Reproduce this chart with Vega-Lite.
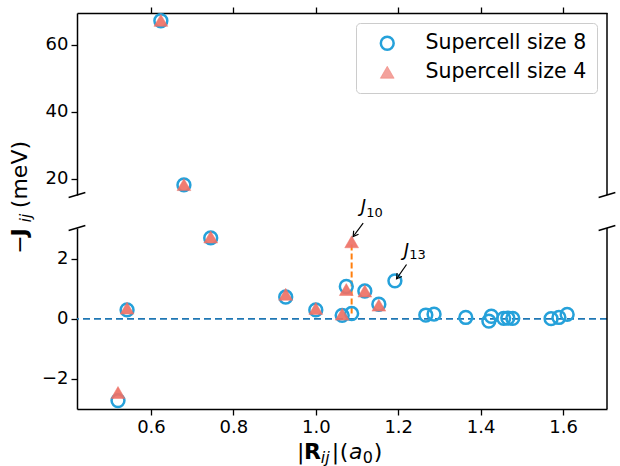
{
  "$schema": "https://vega.github.io/schema/vega-lite/v6.json",
  "padding": {"left": 9, "top": 6, "right": 8, "bottom": 0},
  "bounds": "flush",
  "spacing": 33,
  "config": {
    "view": {"stroke": null},
    "font": "DejaVu Sans",
    "axis": {"grid": false, "labelFontSize": 18, "labelFont": "DejaVu Sans", "labelColor": "black", "tickColor": "black", "domainColor": "black", "tickSize": 6, "tickWidth": 1.3, "domainWidth": 1.5, "labelPadding": 3},
    "legend": {"orient": "top-right", "offset": 10, "padding": 10, "symbolOffset": 11, "labelOffset": 28, "labelFontSize": 20.5, "labelLimit": 400, "labelFont": "DejaVu Sans", "labelColor": "black", "rowPadding": 7, "strokeColor": "#cccccc", "fillColor": "white", "cornerRadius": 4}
  },
  "datasets": {
    "pts": [
      {"R": 0.520, "J": -2.72, "s": "Supercell size 8"},
      {"R": 0.542, "J": 0.30, "s": "Supercell size 8"},
      {"R": 0.624, "J": 67.2, "s": "Supercell size 8"},
      {"R": 0.680, "J": 18.2, "s": "Supercell size 8"},
      {"R": 0.745, "J": 2.70, "s": "Supercell size 8"},
      {"R": 0.927, "J": 0.73, "s": "Supercell size 8"},
      {"R": 1.000, "J": 0.30, "s": "Supercell size 8"},
      {"R": 1.064, "J": 0.12, "s": "Supercell size 8"},
      {"R": 1.074, "J": 1.08, "s": "Supercell size 8"},
      {"R": 1.087, "J": 0.18, "s": "Supercell size 8"},
      {"R": 1.119, "J": 0.93, "s": "Supercell size 8"},
      {"R": 1.153, "J": 0.49, "s": "Supercell size 8"},
      {"R": 1.192, "J": 1.27, "s": "Supercell size 8"},
      {"R": 1.267, "J": 0.13, "s": "Supercell size 8"},
      {"R": 1.287, "J": 0.16, "s": "Supercell size 8"},
      {"R": 1.364, "J": 0.05, "s": "Supercell size 8"},
      {"R": 1.420, "J": -0.07, "s": "Supercell size 8"},
      {"R": 1.426, "J": 0.09, "s": "Supercell size 8"},
      {"R": 1.456, "J": 0.02, "s": "Supercell size 8"},
      {"R": 1.466, "J": 0.03, "s": "Supercell size 8"},
      {"R": 1.478, "J": 0.02, "s": "Supercell size 8"},
      {"R": 1.571, "J": 0.01, "s": "Supercell size 8"},
      {"R": 1.590, "J": 0.05, "s": "Supercell size 8"},
      {"R": 1.610, "J": 0.15, "s": "Supercell size 8"},
      {"R": 0.520, "J": -2.45, "s": "Supercell size 4"},
      {"R": 0.542, "J": 0.36, "s": "Supercell size 4"},
      {"R": 0.624, "J": 67.3, "s": "Supercell size 4"},
      {"R": 0.680, "J": 18.3, "s": "Supercell size 4"},
      {"R": 0.745, "J": 2.73, "s": "Supercell size 4"},
      {"R": 0.927, "J": 0.82, "s": "Supercell size 4"},
      {"R": 1.000, "J": 0.35, "s": "Supercell size 4"},
      {"R": 1.064, "J": 0.16, "s": "Supercell size 4"},
      {"R": 1.074, "J": 0.98, "s": "Supercell size 4"},
      {"R": 1.087, "J": 2.57, "s": "Supercell size 4"},
      {"R": 1.119, "J": 0.93, "s": "Supercell size 4"},
      {"R": 1.153, "J": 0.46, "s": "Supercell size 4"}
    ],
    "ann": [
      {"x": 1.1094, "y": 3.563, "xs": 1.1227, "ys": 3.413, "sub": "10"},
      {"x": 1.2136, "y": 2.113, "xs": 1.2269, "ys": 1.997, "sub": "13"}
    ],
    "arrows": [
      {"x1": 1.1150, "y1": 3.19, "x2": 1.0907, "y2": 2.747},
      {"x1": 1.2202, "y1": 1.813, "x2": 1.1960, "y2": 1.337}
    ],
    "j10": [
      {"R": 1.087, "lo": 0.18, "hi": 2.57}
    ]
  },
  "resolve": {"scale": {"x": "independent", "y": "independent", "shape": "independent", "stroke": "independent", "fill": "independent", "size": "independent", "opacity": "independent", "strokeWidth": "independent"}},
  "vconcat": [
    {
      "width": 530,
      "height": 182,
      "layer": [
        {
          "data": {"name": "pts"},
          "transform": [{"filter": "datum.J > 10"}],
          "mark": {"type": "point", "filled": false},
          "encoding": {
            "x": {"field": "R", "type": "quantitative", "scale": {"domain": [0.4205, 1.7067], "nice": false, "zero": false}, "axis": {"orient": "top", "labels": false, "title": null, "values": [0.6, 0.8, 1.0, 1.2, 1.4, 1.6]}},
            "y": {"field": "J", "type": "quantitative", "scale": {"domain": [15.2, 69.5], "nice": false, "zero": false}, "axis": {"title": null, "values": [20, 40, 60]}},
            "shape": {"field": "s", "type": "nominal", "legend": {"title": null}, "scale": {"domain": ["Supercell size 8", "Supercell size 4"], "range": ["circle", "triangle-up"]}},
            "stroke": {"field": "s", "type": "nominal", "legend": {"title": null}, "scale": {"domain": ["Supercell size 8", "Supercell size 4"], "range": ["#25a1da", "#ee7166"]}},
            "fill": {"field": "s", "type": "nominal", "legend": {"title": null}, "scale": {"domain": ["Supercell size 8", "Supercell size 4"], "range": ["transparent", "#ee7166"]}},
            "size": {"field": "s", "type": "nominal", "legend": {"title": null}, "scale": {"domain": ["Supercell size 8", "Supercell size 4"], "range": [165, 190]}},
            "opacity": {"field": "s", "type": "nominal", "legend": {"title": null}, "scale": {"domain": ["Supercell size 8", "Supercell size 4"], "range": [1, 0.92]}},
            "strokeWidth": {"field": "s", "type": "nominal", "legend": {"title": null}, "scale": {"domain": ["Supercell size 8", "Supercell size 4"], "range": [2.5, 0.5]}}
          }
        },
        {
          "data": {"values": [{}]},
          "mark": {"type": "rule", "color": "black", "strokeWidth": 1.5},
          "encoding": {"x": {"datum": 1.7067}}
        },
        {
          "data": {"values": [{}]},
          "mark": {"type": "point", "shape": "M-1,0.3L1,-0.3", "size": 280, "filled": false, "stroke": "black", "strokeWidth": 1.5, "opacity": 1},
          "encoding": {"x": {"datum": 0.4205}, "y": {"datum": 15.2}}
        },
        {
          "data": {"values": [{}]},
          "mark": {"type": "point", "shape": "M-1,0.3L1,-0.3", "size": 280, "filled": false, "stroke": "black", "strokeWidth": 1.5, "opacity": 1},
          "encoding": {"x": {"datum": 1.7067}, "y": {"datum": 15.2}}
        }
      ]
    },
    {
      "width": 530,
      "height": 181,
      "layer": [
        {
          "data": {"values": [{}]},
          "mark": {"type": "rule", "color": "#1f77b4", "strokeDash": [7, 4], "strokeWidth": 1.8},
          "encoding": {"y": {"datum": 0}}
        },
        {
          "data": {"name": "j10"},
          "mark": {"type": "rule", "color": "#ff7f0e", "strokeDash": [6, 3], "strokeWidth": 2},
          "encoding": {
            "x": {"field": "R", "type": "quantitative"},
            "y": {"field": "lo", "type": "quantitative"},
            "y2": {"field": "hi"}
          }
        },
        {
          "data": {"name": "pts"},
          "transform": [{"filter": "datum.J < 10"}],
          "mark": {"type": "point", "filled": false},
          "encoding": {
            "x": {"field": "R", "type": "quantitative", "scale": {"domain": [0.4205, 1.7067], "nice": false, "zero": false}, "axis": {"title": null, "values": [0.6, 0.8, 1.0, 1.2, 1.4, 1.6], "format": ".1f"}},
            "y": {"field": "J", "type": "quantitative", "scale": {"domain": [-3, 3.03], "nice": false, "zero": false}, "axis": {"title": null, "values": [-2, 0, 2]}},
            "shape": {"field": "s", "type": "nominal", "legend": null, "scale": {"domain": ["Supercell size 8", "Supercell size 4"], "range": ["circle", "triangle-up"]}},
            "stroke": {"field": "s", "type": "nominal", "legend": null, "scale": {"domain": ["Supercell size 8", "Supercell size 4"], "range": ["#25a1da", "#ee7166"]}},
            "fill": {"field": "s", "type": "nominal", "legend": null, "scale": {"domain": ["Supercell size 8", "Supercell size 4"], "range": ["transparent", "#ee7166"]}},
            "size": {"field": "s", "type": "nominal", "legend": null, "scale": {"domain": ["Supercell size 8", "Supercell size 4"], "range": [165, 190]}},
            "opacity": {"field": "s", "type": "nominal", "legend": null, "scale": {"domain": ["Supercell size 8", "Supercell size 4"], "range": [1, 0.92]}},
            "strokeWidth": {"field": "s", "type": "nominal", "legend": null, "scale": {"domain": ["Supercell size 8", "Supercell size 4"], "range": [2.5, 0.5]}}
          }
        },
        {
          "data": {"values": [{}]},
          "mark": {"type": "rule", "color": "black", "strokeWidth": 1.5},
          "encoding": {"x": {"datum": 1.7067}}
        },
        {
          "data": {"values": [{}]},
          "mark": {"type": "point", "shape": "M-1,0.3L1,-0.3", "size": 280, "filled": false, "stroke": "black", "strokeWidth": 1.5, "opacity": 1},
          "encoding": {"x": {"datum": 0.4205}, "y": {"datum": 3.03}}
        },
        {
          "data": {"values": [{}]},
          "mark": {"type": "point", "shape": "M-1,0.3L1,-0.3", "size": 280, "filled": false, "stroke": "black", "strokeWidth": 1.5, "opacity": 1},
          "encoding": {"x": {"datum": 1.7067}, "y": {"datum": 3.03}}
        },
        {
          "data": {"name": "ann"},
          "mark": {"type": "text", "fontStyle": "italic", "fontSize": 18, "align": "left", "baseline": "alphabetic", "color": "black"},
          "encoding": {"x": {"field": "x", "type": "quantitative"}, "y": {"field": "y", "type": "quantitative"}, "text": {"value": "J"}}
        },
        {
          "data": {"name": "ann"},
          "mark": {"type": "text", "fontSize": 13, "align": "left", "baseline": "alphabetic", "color": "black"},
          "encoding": {"x": {"field": "xs", "type": "quantitative"}, "y": {"field": "ys", "type": "quantitative"}, "text": {"field": "sub"}}
        },
        {
          "data": {"name": "arrows"},
          "mark": {"type": "rule", "color": "black", "strokeWidth": 1.2},
          "encoding": {"x": {"field": "x1", "type": "quantitative"}, "y": {"field": "y1", "type": "quantitative"}, "x2": {"field": "x2"}, "y2": {"field": "y2"}}
        },
        {
          "data": {"name": "arrows"},
          "mark": {"type": "point", "shape": "M-0.6,1L0,0L0.6,1", "size": 100, "angle": 216, "filled": false, "stroke": "black", "strokeWidth": 1.2, "opacity": 1},
          "encoding": {"x": {"field": "x2", "type": "quantitative"}, "y": {"field": "y2", "type": "quantitative"}}
        },
        {
          "data": {"values": [{}]},
          "mark": {"type": "text", "angle": 270, "fontSize": 22, "align": "center", "baseline": "alphabetic", "color": "black", "text": "−"},
          "encoding": {"x": {"datum": 0.2993}, "y": {"datum": 2.48}}
        },
        {
          "data": {"values": [{}]},
          "mark": {"type": "text", "angle": 270, "fontSize": 22, "fontWeight": "bold", "align": "center", "baseline": "alphabetic", "color": "black", "text": "J"},
          "encoding": {"x": {"datum": 0.2993}, "y": {"datum": 2.88}}
        },
        {
          "data": {"values": [{}]},
          "mark": {"type": "text", "angle": 270, "fontSize": 15, "fontStyle": "italic", "align": "center", "baseline": "alphabetic", "color": "black", "text": "ij"},
          "encoding": {"x": {"datum": 0.309}, "y": {"datum": 3.363}}
        },
        {
          "data": {"values": [{}]},
          "mark": {"type": "text", "angle": 270, "fontSize": 22, "align": "center", "baseline": "alphabetic", "color": "black", "text": "(meV)"},
          "encoding": {"x": {"datum": 0.2993}, "y": {"datum": 4.81}}
        },
        {
          "data": {"values": [{}]},
          "mark": {"type": "text", "fontSize": 22, "align": "left", "baseline": "alphabetic", "color": "black", "text": "|"},
          "encoding": {"x": {"datum": 0.9541}, "y": {"datum": -4.653}}
        },
        {
          "data": {"values": [{}]},
          "mark": {"type": "text", "fontSize": 22, "fontWeight": "bold", "align": "left", "baseline": "alphabetic", "color": "black", "text": "R"},
          "encoding": {"x": {"datum": 0.9711}, "y": {"datum": -4.653}}
        },
        {
          "data": {"values": [{}]},
          "mark": {"type": "text", "fontSize": 16, "fontStyle": "italic", "align": "left", "baseline": "alphabetic", "color": "black", "text": "ij"},
          "encoding": {"x": {"datum": 1.0123}, "y": {"datum": -4.787}}
        },
        {
          "data": {"values": [{}]},
          "mark": {"type": "text", "fontSize": 22, "align": "left", "baseline": "alphabetic", "color": "black", "text": "|"},
          "encoding": {"x": {"datum": 1.039}, "y": {"datum": -4.653}}
        },
        {
          "data": {"values": [{}]},
          "mark": {"type": "text", "fontSize": 22, "align": "left", "baseline": "alphabetic", "color": "black", "text": "("},
          "encoding": {"x": {"datum": 1.0584}, "y": {"datum": -4.653}}
        },
        {
          "data": {"values": [{}]},
          "mark": {"type": "text", "fontSize": 22, "fontStyle": "italic", "align": "left", "baseline": "alphabetic", "color": "black", "text": "a"},
          "encoding": {"x": {"datum": 1.0803}, "y": {"datum": -4.653}}
        },
        {
          "data": {"values": [{}]},
          "mark": {"type": "text", "fontSize": 16, "align": "left", "baseline": "alphabetic", "color": "black", "text": "0"},
          "encoding": {"x": {"datum": 1.1142}, "y": {"datum": -4.787}}
        },
        {
          "data": {"values": [{}]},
          "mark": {"type": "text", "fontSize": 22, "align": "left", "baseline": "alphabetic", "color": "black", "text": ")"},
          "encoding": {"x": {"datum": 1.1409}, "y": {"datum": -4.653}}
        }
      ]
    }
  ]
}
